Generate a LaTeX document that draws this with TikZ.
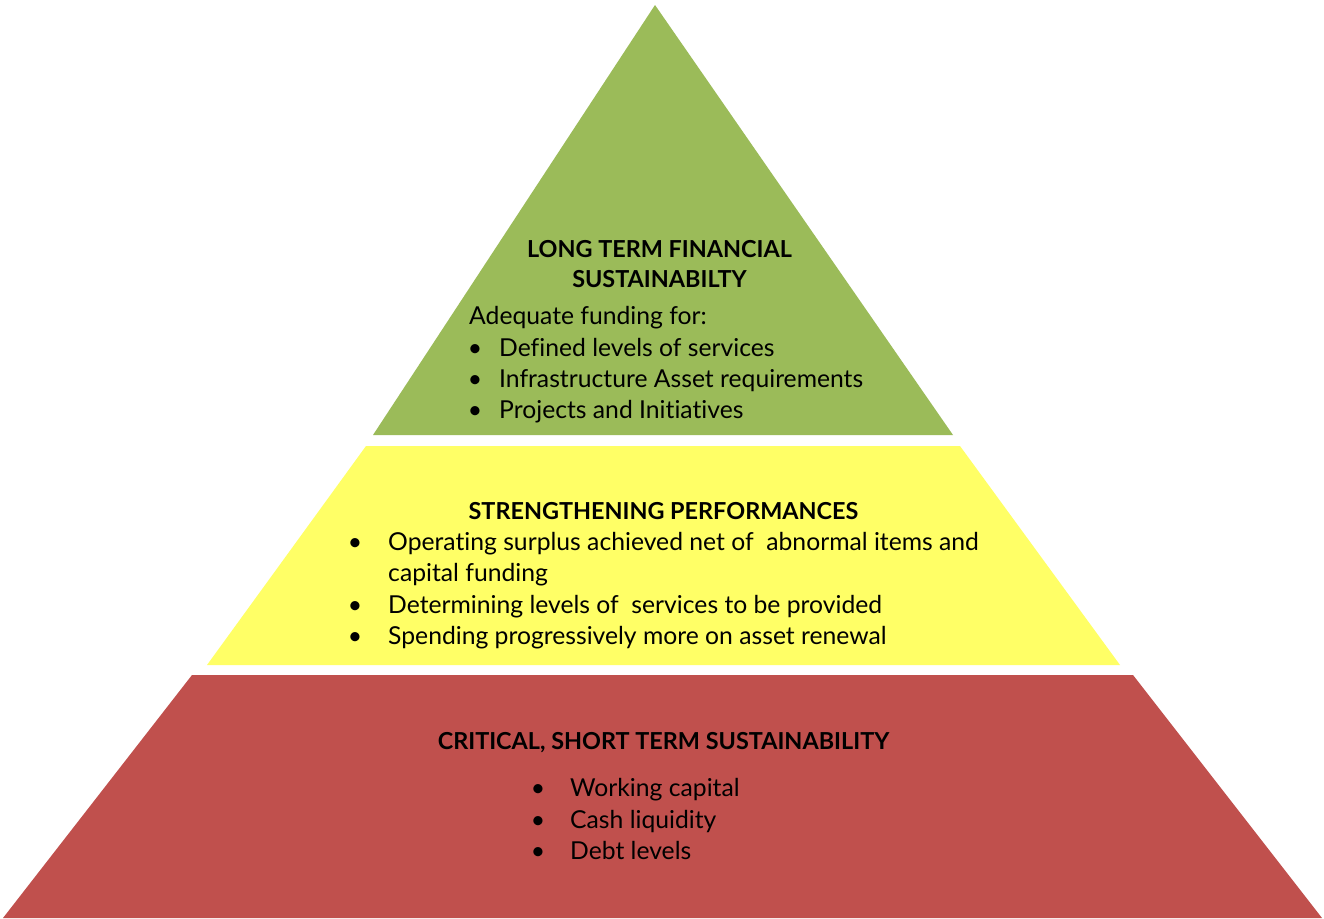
\documentclass[tikz,border=0pt]{standalone}
\usepackage{fontspec}
\setmainfont{Lato}[Ligatures={NoCommon}]
\definecolor{pgreen}{HTML}{9BBB59}
\definecolor{pyellow}{HTML}{FFFF66}
\definecolor{pred}{HTML}{C0504D}
\begin{document}
\begin{tikzpicture}[x=1pt,y=-1pt,
  txt/.style={inner sep=0pt,font=\fontsize{24.7}{30}\selectfont},
  head/.style={txt,font=\fontsize{23.4}{30}\selectfont\bfseries,anchor=base},
  item/.style={txt,anchor=base west},
  bul/.style={txt,anchor=base}]
\useasboundingbox (0,0) rectangle (1324,918);
\fill[white] (0,0) rectangle (1324,918);
% layers
\fill[pgreen] (655,5) -- (953,435) -- (373,435) -- cycle;
\fill[pyellow] (366,446) -- (960,446) -- (1120,665) -- (207,665) -- cycle;
\fill[pred] (192,675) -- (1133,675) -- (1322,918) -- (3,918) -- cycle;
% green
\node[head] (g1) at (659.5,257) {LONG TERM FINANCIAL};
\node[head] (g2) at (659.5,287) {SUSTAINABILTY};
\node[item] (g3) at (469,324) {Adequate funding for:};
\node[bul] (gb1) at (475,356) {\textbullet};
\node[item] (gi1) at (499,356) {Defined levels of services};
\node[bul] (gb2) at (475,387) {\textbullet};
\node[item] (gi2) at (499,387) {Infrastructure Asset requirements};
\node[bul] (gb3) at (475,418) {\textbullet};
\node[item] (gi3) at (499,418) {Projects and Initiatives};
% yellow
\node[head] (y1) at (663.5,519) {STRENGTHENING PERFORMANCES};
\node[bul] (yb1) at (355,550) {\textbullet};
\node[item] (yi1) at (388,550) {Operating surplus achieved net of \ abnormal items and};
\node[item] (yi1b) at (388,581) {capital funding};
\node[bul] (yb2) at (355,613) {\textbullet};
\node[item] (yi2) at (388,613) {Determining levels of \ services to be provided};
\node[bul] (yb3) at (355,644) {\textbullet};
\node[item] (yi3) at (388,644) {Spending progressively more on asset renewal};
% red
\node[head] (r1) at (663.5,749) {CRITICAL, SHORT TERM SUSTAINABILITY};
\node[bul] (rb1) at (538,796) {\textbullet};
\node[item] (ri1) at (570,796) {Working capital};
\node[bul] (rb2) at (538,828) {\textbullet};
\node[item] (ri2) at (570,828) {Cash liquidity};
\node[bul] (rb3) at (538,859) {\textbullet};
\node[item] (ri3) at (570,859) {Debt levels};
\end{tikzpicture}
\end{document}
